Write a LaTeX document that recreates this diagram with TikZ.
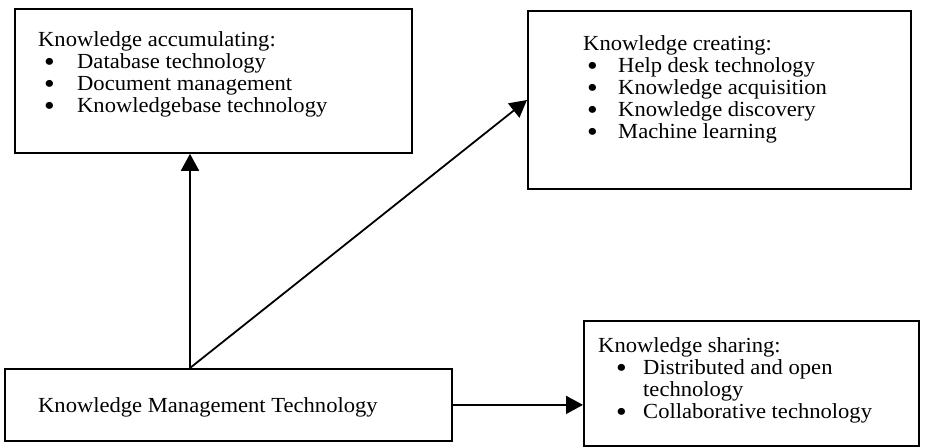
\documentclass[tikz,border=0pt]{standalone}
\usepackage{fontspec}
\usepackage{graphicx}
\setmainfont{Liberation Serif}[FakeStretch=1.05]
\usetikzlibrary{arrows.meta}
% bullet item: indent, bullet column width, text
\newcommand{\kmitem}[3]{\hspace*{#1pt}\makebox[#2pt][l]{\smash{\raisebox{-3pt}{\scalebox{1.35}{\textbullet}}}}#3}
\begin{document}
\begin{tikzpicture}[x=1pt,y=-1pt,
  box/.style={draw, line width=1.8pt, anchor=north west, inner sep=0pt},
  txt/.style={anchor=north west, align=left, inner sep=0pt,
    font=\fontsize{21.5}{22.2}\selectfont},
  link/.style={line width=1.8pt, -{Triangle[length=17pt,width=18pt]}}]
  % canvas
  \useasboundingbox (0,0) rectangle (938,447);
  \fill[white] (0,0) rectangle (938,447);

  % frames
  \node[box, minimum width=397pt, minimum height=144pt] (acc) at (14,8) {};
  \node[box, minimum width=383pt, minimum height=178pt] (cre) at (527,10) {};
  \node[box, minimum width=447pt, minimum height=72pt] (kmt) at (4,368) {};
  \node[box, minimum width=335pt, minimum height=125pt] (sha) at (583,320) {};

  % contents
  \node[txt] (accT) at (38,31) {Knowledge accumulating:\\
    \kmitem{6}{33}{Database technology}\\
    \kmitem{6}{33}{Document management}\\
    \kmitem{6}{33}{Knowledgebase technology}};
  \node[txt] (creT) at (583,35) {Knowledge creating:\\
    \kmitem{4}{31}{Help desk technology}\\
    \kmitem{4}{31}{Knowledge acquisition}\\
    \kmitem{4}{31}{Knowledge discovery}\\
    \kmitem{4}{31}{Machine learning}};
  \node[txt] (shaT) at (598,337) {Knowledge sharing:\\
    \kmitem{18}{27}{Distributed and open}\\
    \hspace*{45pt}technology\\
    \kmitem{18}{27}{Collaborative technology}};
  \node[txt, anchor=base west] (kmtT) at (38,412) {Knowledge Management Technology};

  % connectors
  \coordinate (root) at (190,368);
  \draw[link] (root) -- (root |- acc.south);
  \draw[link] (root) -- (cre.west |- 0,100);
  \draw[link] (kmt.east) -- (sha.west |- kmt.east);
\end{tikzpicture}
\end{document}
